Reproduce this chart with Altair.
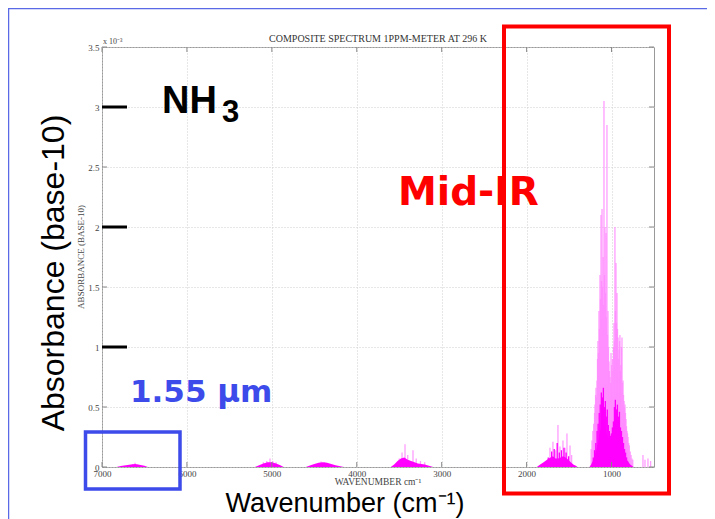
import altair as alt
import pandas as pd

# ---------------- data (absorbance in units of 1e-3) ----------------
# strong individual lines (light magenta)
line_wn = [
    6640, 6611, 6580,
    5100, 5060, 5022, 4990, 4950,
    4420, 4380,
    3500, 3467, 3432, 3400, 3338, 3300, 3250, 3200,
    1725, 1690, 1660, 1631, 1607, 1572, 1548, 1525, 1489, 1470,
    1240, 1230, 1220, 1210, 1200, 1195, 1188, 1183, 1177, 1171, 1165, 1160, 1154,
    1148, 1142, 1136, 1130, 1124, 1118, 1112, 1106, 1100, 1094, 1089, 1083,
    1077, 1071, 1065, 1060, 1054, 1048, 1042, 1036, 1030, 1024, 1018, 1012,
    1006, 1000, 995, 989, 983, 977, 971, 965, 960, 954, 948, 942, 936, 930,
    924, 918, 912, 906, 901, 895, 889, 883, 877, 871, 865, 859, 853, 847,
    842, 836, 830, 824, 818, 812, 806, 798, 790, 780, 770, 760, 750,
    630, 606, 571, 540,
]
line_abs = [
    0.025, 0.035, 0.02,
    0.04, 0.05, 0.07, 0.05, 0.04,
    0.045, 0.04,
    0.07, 0.12, 0.19, 0.10, 0.14, 0.07, 0.05, 0.04,
    0.16, 0.21, 0.14, 0.35, 0.17, 0.22, 0.16, 0.28, 0.18, 0.10,
    0.15, 0.22, 0.30, 0.36, 0.45, 0.52, 0.60, 0.66, 0.58, 0.72, 0.90, 1.05, 0.95,
    1.30, 1.15, 1.60, 1.40, 2.10, 1.55, 2.15, 1.50, 1.75, 1.35, 3.05, 1.60,
    2.00, 1.45, 1.95, 1.25, 2.85, 1.10, 1.30, 1.00, 0.88, 0.80, 0.75, 0.70,
    0.95, 0.85, 0.70, 0.90, 0.80, 1.00, 1.20, 1.05, 2.00, 1.30, 1.70, 1.20, 1.45, 1.15,
    1.08, 0.90, 0.98, 1.05, 1.10, 0.80, 0.85, 1.00, 1.08, 0.70, 0.72, 0.60, 0.55, 0.50,
    0.52, 0.45, 0.40, 0.34, 0.30, 0.28, 0.25, 0.20, 0.18, 0.13, 0.10, 0.07, 0.06,
    0.10, 0.06, 0.07, 0.05,
]

# medium lines inside the dense bands (solid magenta)
mid_wn = [
    1215, 1200, 1185, 1170, 1158, 1145, 1133, 1120, 1108, 1096, 1085, 1073,
    1062, 1050, 1038, 1026, 1014, 1002, 990, 978, 966, 955, 943, 931, 919,
    907, 895, 883, 871, 859, 847, 835, 823, 811,
    1745, 1705, 1675, 1640, 1615, 1590, 1560, 1535, 1505,
]
mid_abs = [
    0.08, 0.14, 0.20, 0.30, 0.36, 0.45, 0.52, 0.62, 0.58, 0.66, 0.50, 0.55,
    0.42, 0.48, 0.35, 0.30, 0.26, 0.28, 0.33, 0.38, 0.50, 0.56, 0.48, 0.52, 0.42,
    0.46, 0.33, 0.30, 0.25, 0.20, 0.15, 0.12, 0.08, 0.05,
    0.08, 0.13, 0.15, 0.20, 0.12, 0.14, 0.16, 0.12, 0.09,
]

# dense band envelopes (solid magenta)
env_band = (["b6600"] * 8 + ["b5000"] * 8 + ["b4400"] * 10 + ["b3300"] * 13
            + ["b1600"] * 16 + ["b1000"] * 27)
env_wn = [
    6830, 6780, 6720, 6660, 6610, 6560, 6500, 6460,
    5200, 5150, 5100, 5050, 5000, 4950, 4900, 4860,
    4600, 4560, 4500, 4450, 4400, 4350, 4300, 4250, 4180, 4150,
    3600, 3560, 3520, 3480, 3440, 3400, 3360, 3320, 3280, 3240, 3200, 3150, 3100,
    1880, 1840, 1800, 1760, 1720, 1690, 1660, 1630, 1600, 1570, 1540, 1510, 1480, 1450, 1420, 1400,
    1260, 1240, 1220, 1200, 1180, 1160, 1140, 1120, 1100, 1080, 1060, 1040, 1020, 1000,
    980, 960, 940, 920, 900, 880, 860, 840, 820, 800, 780, 760, 740,
]
env_abs = [
    0, 0.008, 0.015, 0.02, 0.025, 0.018, 0.01, 0,
    0, 0.015, 0.03, 0.04, 0.04, 0.03, 0.015, 0,
    0, 0.01, 0.025, 0.035, 0.04, 0.035, 0.025, 0.015, 0.005, 0,
    0, 0.02, 0.05, 0.07, 0.08, 0.06, 0.05, 0.04, 0.03, 0.025, 0.02, 0.01, 0,
    0, 0.02, 0.04, 0.06, 0.08, 0.09, 0.07, 0.07, 0.08, 0.09, 0.08, 0.06, 0.04, 0.02, 0.01, 0,
    0, 0.02, 0.05, 0.09, 0.14, 0.20, 0.28, 0.34, 0.36, 0.32, 0.28, 0.24, 0.20, 0.18,
    0.22, 0.30, 0.32, 0.30, 0.25, 0.20, 0.15, 0.10, 0.06, 0.04, 0.02, 0.01, 0,
]

x_ticks = [1000, 2000, 3000, 4000, 5000, 6000, 7000]
y_ticks = [0, 0.5, 1, 1.5, 2, 2.5, 3, 3.5]
big_ticks = [1, 2, 3]

W, H = 552, 420

lines_df = pd.DataFrame({"wn": line_wn, "a": line_abs})
mid_df = pd.DataFrame({"wn": mid_wn, "a": mid_abs})
env_df = pd.DataFrame({"wn": env_wn, "a": env_abs, "band": env_band})
xt_df = pd.DataFrame({"wn": x_ticks})
yt_df = pd.DataFrame({"a": y_ticks})
bt_df = pd.DataFrame({"a": big_ticks})

xs = alt.Scale(domain=[500, 7000], reverse=True, nice=False, zero=False)
ys = alt.Scale(domain=[0, 3.5], nice=False, zero=False)

xaxis = alt.Axis(values=x_ticks, format="d", grid=True, gridColor="#cfcfcf",
                 gridDash=[1, 2], ticks=False, domain=False, labelFlush=False,
                 labelFont="Liberation Serif", labelFontSize=9, labelColor="#444",
                 labelPadding=2, title=None)
yaxis = alt.Axis(values=y_ticks, format="~g", grid=True, gridColor="#cfcfcf",
                 gridDash=[1, 2], ticks=False, domain=False,
                 labelFont="Liberation Serif", labelFontSize=9, labelColor="#444",
                 labelPadding=3, title=None)

X = alt.X("wn:Q", scale=xs, axis=xaxis, title=None)
Y = alt.Y("a:Q", scale=ys, axis=yaxis, title=None)

lines = alt.Chart(lines_df).transform_calculate(z="0").mark_rule(
    color="#ff8cff", strokeWidth=1.3, opacity=0.85
).encode(x=X, y=Y, y2="z:Q")

mids = alt.Chart(mid_df).transform_calculate(z="0").mark_rule(
    color="#ff00ff", strokeWidth=1.3
).encode(x=X, y=Y, y2="z:Q")

env = alt.Chart(env_df).mark_area(color="#ff00ff", opacity=1).encode(
    x=X, y=Y, detail="band:N"
)

# inward frame ticks (Matlab style)
xt_bottom = alt.Chart(xt_df).mark_rule(color="#888", strokeWidth=1).encode(
    x=X, y=alt.value(H), y2=alt.value(H - 5))
xt_top = alt.Chart(xt_df).mark_rule(color="#888", strokeWidth=1).encode(
    x=X, y=alt.value(0), y2=alt.value(5))
yt_left = alt.Chart(yt_df).mark_rule(color="#888", strokeWidth=1).encode(
    y=Y, x=alt.value(0), x2=alt.value(5))
yt_right = alt.Chart(yt_df).mark_rule(color="#888", strokeWidth=1).encode(
    y=Y, x=alt.value(W), x2=alt.value(W - 5))

big = alt.Chart(bt_df).mark_rule(color="black", strokeWidth=3).encode(
    y=Y, x=alt.value(0), x2=alt.value(25))


def label(text, x, y, size, color="black", font="Liberation Sans", weight="normal",
          angle=0, align="left", baseline="alphabetic"):
    return alt.Chart(alt.Data(values=[{}])).mark_text(
        text=text, fontSize=size, color=color, font=font, fontWeight=weight,
        angle=angle, align=align, baseline=baseline
    ).encode(x=alt.value(x), y=alt.value(y))


def box(x1, x2, y1, y2, color, width):
    return alt.Chart(alt.Data(values=[{}])).mark_rect(
        fill=None, stroke=color, strokeWidth=width
    ).encode(x=alt.value(x1), x2=alt.value(x2), y=alt.value(y1), y2=alt.value(y2))


def seg(x1, x2, y1, y2, color, width):
    return alt.Chart(alt.Data(values=[{}])).mark_rule(
        color=color, strokeWidth=width
    ).encode(x=alt.value(x1), x2=alt.value(x2), y=alt.value(y1), y2=alt.value(y2))


BLUE = "#3d4bea"
annotations = [
    label("COMPOSITE SPECTRUM 1PPM-METER AT 296 K", 276, -5, 10, color="#333",
          font="Liberation Serif", align="center"),
    label("x 10⁻³", 1, -3, 8, color="#444", font="Liberation Serif"),
    label("WAVENUMBER cm⁻¹", 276, 438, 9.5, color="#444", font="Liberation Serif",
          align="center"),
    label("ABSORBANCE (BASE-10)", -21, 210, 9, color="#444", font="Liberation Serif",
          angle=270, align="center", baseline="middle"),
    label("Absorbance (base-10)", -48, 226, 32, angle=270, align="center",
          baseline="middle"),
    label("Wavenumber  (cm⁻¹)", 243, 465, 27, align="center"),
    label("NH", 60, 66, 38, weight="bold"),
    label("3", 120, 75, 31, weight="bold"),
    label("Mid-IR", 296, 158, 39, color="#ff0000", weight="bold", font="DejaVu Sans"),
    label("1.55 μm", 28, 355, 31, color=BLUE, weight="bold", font="DejaVu Sans"),
    box(402, 567, -20.5, 446.5, "#ff0000", 4),
    box(-16.5, 78, 385, 442, BLUE, 3.5),
    seg(-94, W + 53, -38.5, -38.5, "#5a6ae6", 1.5),
    seg(-93.5, -93.5, -39, H + 60, "#5a6ae6", 1.5),
]

chart = alt.layer(
    lines, env, mids, xt_bottom, xt_top, yt_left, yt_right, big, *annotations
).properties(
    width=W, height=H,
    autosize=alt.AutoSizeParams(type="none"),
    padding={"left": 94, "top": 39, "right": 53, "bottom": 56},
    background="white",
).configure_view(stroke="#999", strokeWidth=1)

chart.save("out.html", embed_options={"renderer": "svg", "actions": False})
